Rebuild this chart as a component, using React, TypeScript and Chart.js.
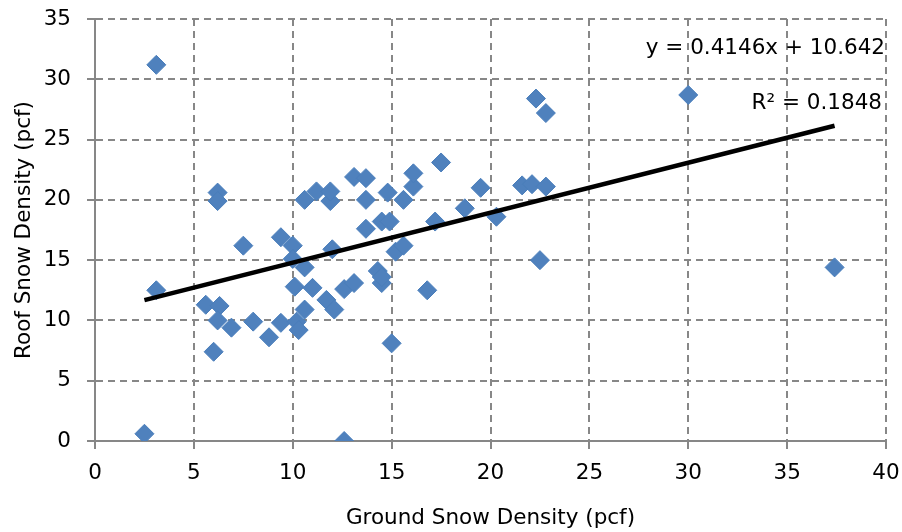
import React, { useEffect, useRef } from "react";
import { Chart, registerables } from "chart.js";

Chart.register(...registerables);

// Ground snow density (pcf) – x values
const groundDensity = [
  3.1, 3.1, 2.5, 6.2, 6.2, 7.5, 5.6, 6.3, 6.2, 6.9,
  6.0, 8.0, 8.8, 9.4, 9.4, 10.0, 10.0, 10.1, 10.2, 10.3,
  10.6, 10.6, 10.6, 11.0, 11.2, 11.9, 11.9, 11.7, 12.0, 12.1,
  12.6, 12.6, 13.1, 13.1, 13.7, 13.7, 13.7, 14.3, 14.5, 14.5,
  14.8, 14.9, 15.0, 15.2, 15.6, 15.6, 16.1, 16.1, 16.8, 17.2,
  17.5, 18.7, 19.5, 20.3, 21.6, 22.1, 22.8, 22.3, 22.8, 22.5,
  30.0, 37.4, 14.5,
];

// Roof snow density (pcf) – y values
const roofDensity = [
  31.2, 12.5, 0.6, 20.6, 19.9, 16.2, 11.3, 11.2, 10.0, 9.4,
  7.4, 9.9, 8.6, 9.8, 16.9, 16.2, 15.1, 12.8, 9.9, 9.2,
  14.4, 10.9, 20.0, 12.7, 20.7, 19.9, 20.7, 11.7, 15.9, 10.9,
  12.6, 0.0, 13.1, 21.9, 21.8, 20.0, 17.6, 14.1, 13.1, 18.2,
  20.6, 18.2, 8.1, 15.7, 16.2, 20.0, 21.1, 22.2, 12.5, 18.2,
  23.1, 19.3, 21.0, 18.6, 21.2, 21.3, 21.1, 28.4, 27.2, 15.0,
  28.7, 14.4, 13.6,
];

// Linear trendline end points
const trendX = [2.5, 37.4];
const trendY = [11.68, 26.15];

const xTicks = [0, 5, 10, 15, 20, 25, 30, 35, 40];
const yTicks = [0, 5, 10, 15, 20, 25, 30, 35];

const xTitle = "Ground Snow Density (pcf)";
const yTitle = "Roof Snow Density (pcf)";
const equationLabel = "y = 0.4146x + 10.642";
const r2Label = "R² = 0.1848";

const FONT = "'DejaVu Sans'";
const FONT_SIZE = 21.5;
const GRID = "#878787";

const trendLabelPlugin = {
  id: "trendLabel",
  afterDatasetsDraw(chart: any) {
    const { ctx, chartArea } = chart;
    ctx.save();
    ctx.font = `${FONT_SIZE}px ${FONT}`;
    ctx.fillStyle = "#000";
    ctx.textAlign = "right";
    ctx.textBaseline = "middle";
    ctx.fillText(equationLabel, chartArea.right - 1, chartArea.top + 29);
    ctx.fillText(r2Label, chartArea.right - 4, chartArea.top + 84);
    ctx.restore();
  },
};

export default function App() {
  const canvasRef = useRef<HTMLCanvasElement | null>(null);

  useEffect(() => {
    document.body.style.margin = "0";
    const canvas = canvasRef.current;
    if (!canvas) return;

    const points = groundDensity.map((x, i) => ({ x, y: roofDensity[i] }));
    const trend = trendX.map((x, i) => ({ x, y: trendY[i] }));

    const axisCommon = (ticks: number[]) => ({
      type: "linear" as const,
      afterBuildTicks: (scale: any) => {
        scale.ticks = ticks.map((v) => ({ value: v }));
      },
      grid: {
        color: GRID,
        lineWidth: 2,
        tickLength: 8,
        tickColor: GRID,
        tickWidth: 2,
      },
      border: {
        display: true,
        color: GRID,
        width: 2,
        dash: [7, 5],
      },
    });

    const chart = new Chart(canvas, {
      type: "scatter",
      data: {
        datasets: [
          {
            label: "Trend",
            data: trend,
            showLine: true,
            borderColor: "#000",
            borderWidth: 4.5,
            pointRadius: 0,
            fill: false,
          } as any,
          {
            label: "Data",
            data: points,
            pointStyle: "rectRot",
            pointRadius: 9.5,
            backgroundColor: "#4F81BD",
            borderColor: "#4A7EBB",
            borderWidth: 1,
          },
        ],
      },
      options: {
        animation: false,
        responsive: false,
        maintainAspectRatio: false,
        layout: { autoPadding: false, padding: { top: 19, right: 16, left: 0, bottom: 0 } },
        plugins: {
          legend: { display: false },
          tooltip: { enabled: false },
        },
        scales: {
          x: {
            ...axisCommon(xTicks),
            position: "bottom",
            min: 0,
            max: 40,
            afterFit: (scale: any) => {
              scale.height = 91;
              scale.paddingLeft = 0;
              scale.paddingRight = 0;
            },
            ticks: {
              color: "#000",
              font: { family: FONT, size: FONT_SIZE },
              padding: 12,
              maxRotation: 0,
            },
            title: {
              display: true,
              text: xTitle,
              color: "#000",
              font: { family: FONT, size: FONT_SIZE },
              padding: { top: 0, bottom: 1 },
            },
          },
          y: {
            ...axisCommon(yTicks),
            position: "left",
            min: 0,
            max: 35,
            afterFit: (scale: any) => {
              scale.width = 95;
              scale.paddingTop = 0;
              scale.paddingBottom = 0;
            },
            ticks: {
              color: "#000",
              font: { family: FONT, size: FONT_SIZE },
              padding: 16,
            },
            title: {
              display: true,
              text: yTitle,
              color: "#000",
              font: { family: FONT, size: FONT_SIZE },
              padding: { top: 12, bottom: 0 },
            },
          },
        },
      } as any,
      plugins: [trendLabelPlugin],
    });

    return () => chart.destroy();
  }, []);

  return (
    <div style={{ position: "absolute", left: 0, top: 0, width: 902, height: 532 }}>
      <canvas ref={canvasRef} width={902} height={532} style={{ display: "block" }} />
    </div>
  );
}
